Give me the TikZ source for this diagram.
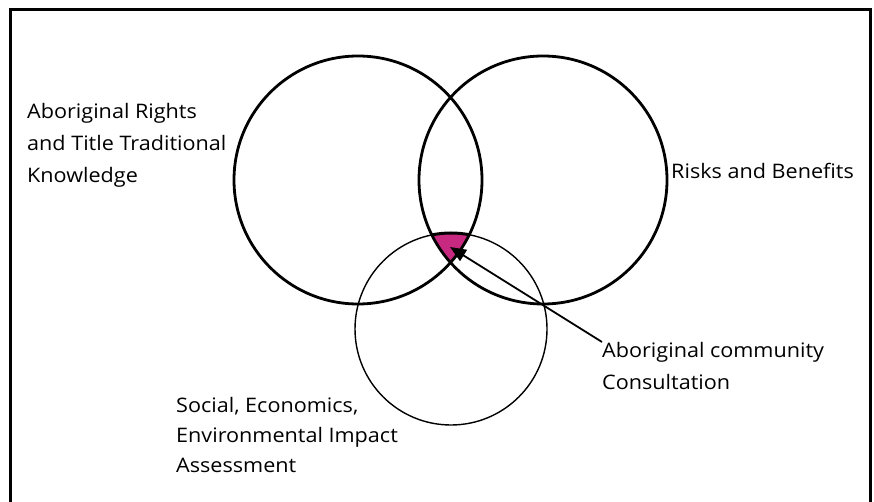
\documentclass[tikz,border=0pt]{standalone}
\usepackage{fontspec}
\setmainfont{Open Sans}[FakeStretch=1.08]
\usetikzlibrary{arrows.meta}
\definecolor{venpink}{RGB}{199,40,128}
\tikzset{
  bigcirc/.style={circle, draw, line width=2.8pt, minimum size=248pt, inner sep=0pt},
  smallcirc/.style={circle, draw, line width=1.4pt, minimum size=192pt, inner sep=0pt},
  lbl/.style={align=left, inner sep=0pt, font=\fontsize{20}{31.5}\selectfont},
  pointer/.style={line width=1.8pt, -{Triangle[length=16pt,width=13pt]}}
}
\begin{document}
\begin{tikzpicture}[x=1pt,y=-1pt]
\useasboundingbox (0,0) rectangle (874,502);
\clip (0,0) rectangle (874,502);
\draw[line width=3pt] (10,10) rectangle (870,520);
% pink triple intersection
\begin{scope}
  \clip (358,180) circle (124);
  \clip (543,180) circle (124);
  \fill[venpink] (451,329) circle (96);
  \draw[line width=3pt] (451,329) circle (96);
\end{scope}
\node[bigcirc] (L) at (358,180) {};
\node[bigcirc] (R) at (543,180) {};
\node[smallcirc] (B) at (451,329) {};
\node[lbl, anchor=north west, font=\fontsize{20}{32}\selectfont] (rights) at (27,103) {Aboriginal Rights\\and Title Traditional\\Knowledge};
\node[lbl, anchor=base west] (risks) at (671,179) {Risks and Benefits};
\node[lbl, anchor=north west, font=\fontsize{20}{32.5}\selectfont] (cons) at (602,342) {Aboriginal community\\Consultation};
\node[lbl, anchor=north west, font=\fontsize{20}{30}\selectfont] (social) at (176,397) {Social, Economics,\\Environmental Impact\\Assessment};
\coordinate (tip) at (450,247);
\draw[pointer] (cons.north west) -- (tip);
\end{tikzpicture}
\end{document}
